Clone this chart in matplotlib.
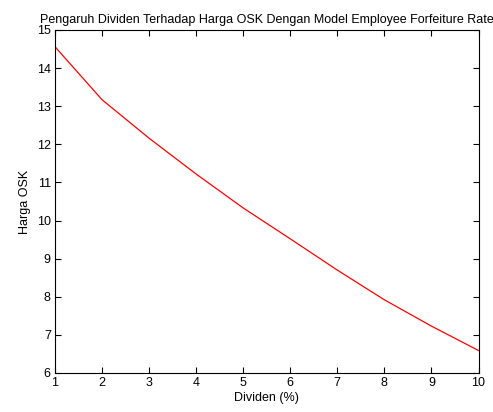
import matplotlib
matplotlib.use('Agg')
import matplotlib.pyplot as plt

# data
dividen = [1, 2, 3, 4, 5, 6, 7, 8, 9, 10]
harga_osk = [14.56, 13.17, 12.16, 11.22, 10.33, 9.52, 8.70, 7.92, 7.23, 6.59]

xticks = [1, 2, 3, 4, 5, 6, 7, 8, 9, 10]
yticks = [6, 7, 8, 9, 10, 11, 12, 13, 14, 15]

plt.rcParams['font.family'] = ['Liberation Sans', 'DejaVu Sans']
plt.rcParams['font.size'] = 9

fig = plt.figure(figsize=(4.93, 4.12), dpi=100)
ax = fig.add_axes([0.1116, 0.0947, 0.8590, 0.8325])

ax.plot(dividen, harga_osk, color='red', linewidth=0.9)

ax.set_xlim(1, 10)
ax.set_ylim(6, 15)
ax.set_xticks(xticks)
ax.set_yticks(yticks)
ax.tick_params(direction='in', length=4, width=0.8, top=True, right=True,
               labelsize=9, pad=3)
for s in ax.spines.values():
    s.set_linewidth(0.8)

ax.set_xlabel('Dividen (%)', fontsize=9, labelpad=2)
ax.set_ylabel('Harga OSK', fontsize=9, labelpad=4)
ax.set_title('Pengaruh Dividen Terhadap Harga OSK Dengan Model Employee Forfeiture Rate',
             fontsize=9, pad=5)

fig.savefig('out.png', dpi=100)
